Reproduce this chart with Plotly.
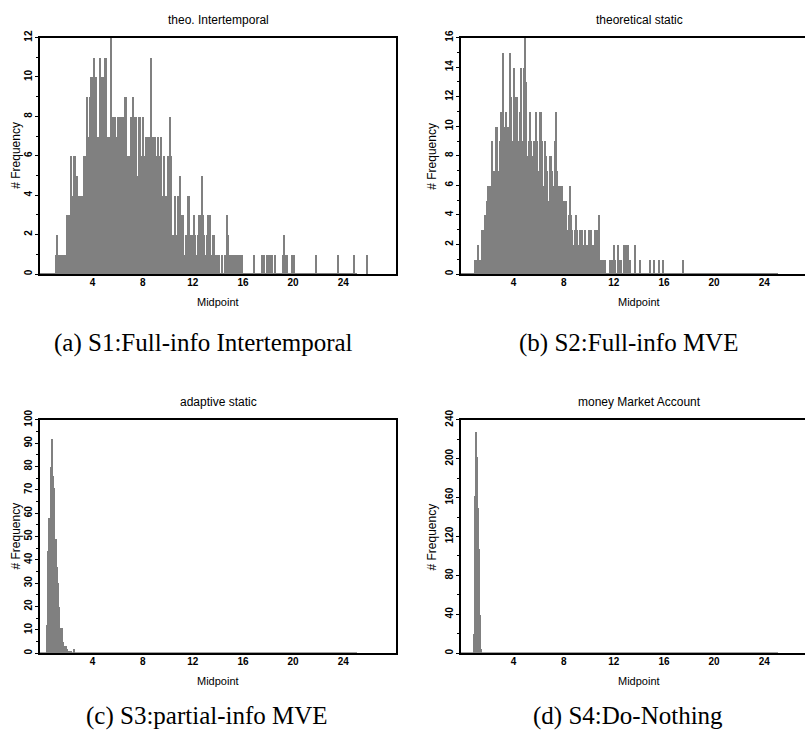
import plotly.graph_objects as go

# ---------------- data (histogram counts per bin) ----------------
# (a) theo. Intertemporal : bins of width 0.1, first bin centred at 1.0
a_start = 1.0
a_width = 0.1
a_counts = [
    0, 1, 2, 1, 1, 1, 1, 1, 1, 1,        # 1.x
    3, 3, 3, 6, 4, 6, 6, 4, 5, 4,        # 2.x
    4, 4, 4, 6, 6, 6, 9, 7, 9, 10,       # 3.x
    10, 11, 7, 10, 7, 7, 11, 10, 10, 5,  # 4.x
    11, 11, 7, 7, 4, 12, 8, 8, 8, 7,     # 5.x
    8, 8, 6, 8, 8, 6, 9, 9, 6, 6,        # 6.x
    6, 8, 9, 6, 8, 8, 5, 8, 8, 6,        # 7.x
    8, 6, 3, 7, 7, 6, 7, 11, 7, 7,       # 8.x
    7, 6, 7, 3, 6, 7, 4, 6, 4, 4,        # 9.x
    6, 4, 8, 6, 2, 2, 4, 2, 4, 3,        # 10.x
    5, 3, 3, 1, 1, 2, 4, 4, 2, 2,        # 11.x
    2, 3, 2, 1, 2, 3, 3, 5, 3, 2,        # 12.x
    1, 2, 3, 3, 3, 1, 2, 2, 1, 1,        # 13.x
    1, 1, 0, 1, 0, 0, 1, 3, 2, 1,        # 14.x
    1, 1, 1, 0, 1, 1, 0, 1, 1, 1,        # 15.x
    0, 0, 0, 0, 0, 0, 0, 0, 0, 1,        # 16.x
    0, 0, 0, 0, 0, 1, 1, 1, 0, 1,        # 17.x
    1, 0, 1, 1, 0, 0, 1, 0, 0, 0,        # 18.x
    0, 0, 1, 2, 1, 1, 0, 0, 0, 1,        # 19.x
    1, 1, 0, 0, 0, 0, 0, 0, 0, 0,        # 20.x
    0, 0, 0, 0, 0, 0, 0, 0, 1, 0,        # 21.x
    0, 0, 0, 0, 0, 0, 0, 0, 0, 0,        # 22.x
    0, 0, 0, 0, 0, 0, 1, 0, 0, 0,        # 23.x
    0, 0, 0, 0, 0, 0, 0, 0, 0, 1,        # 24.x
    0, 0, 0, 0, 0, 0, 0, 0, 0, 1,        # 25.x
]

# (b) theoretical static : bins of width 0.1, first bin centred at 0.9
b_start = 0.9
b_width = 0.1
b_counts = [
    1,                                    # 0.9
    1, 1, 2, 1, 1, 3, 3, 4, 3, 5,         # 1.x
    6, 6, 3, 9, 7, 7, 10, 10, 7, 9,       # 2.x
    11, 11, 15, 10, 11, 9, 10, 15, 12, 9, # 3.x
    14, 12, 10, 12, 9, 11, 14, 9, 14, 16, # 4.x
    13, 8, 9, 11, 9, 8, 9, 8, 11, 9,      # 5.x
    7, 11, 11, 9, 6, 9, 8, 7, 5, 8,       # 6.x
    8, 7, 6, 9, 11, 7, 6, 6, 4, 6,        # 7.x
    5, 4, 5, 3, 4, 6, 4, 3, 2, 3,         # 8.x
    4, 3, 2, 3, 2, 3, 2, 3, 2, 2,         # 9.x
    3, 2, 3, 2, 2, 3, 2, 3, 4, 1,         # 10.x
    0, 1, 1, 1, 0, 0, 0, 1, 1, 1,         # 11.x
    2, 1, 0, 2, 1, 0, 1, 0, 2, 1,         # 12.x
    2, 2, 0, 1, 0, 0, 0, 2, 0, 0,         # 13.x
    0, 1, 0, 0, 0, 0, 0, 0, 0, 1,         # 14.x
    0, 0, 1, 0, 0, 0, 1, 0, 0, 1,         # 15.x
    0, 0, 0, 0, 0, 0, 0, 0, 0, 0,         # 16.x
    0, 0, 0, 0, 0, 1,                     # 17.0-17.5
]

# (c) adaptive static
c_start = 0.35
c_width = 0.1
c_counts = [12, 44, 58, 80, 92, 76, 71, 49, 37, 30, 20, 11, 11, 5, 3, 3, 2, 1, 1, 1, 0, 0, 2]

# (d) money Market Account
d_start = 0.84
d_width = 0.08
d_counts = [20, 162, 228, 202, 150, 107, 40, 5]

hist_span = [-0.2, 25.1]          # extent of the (zero) histogram baseline
x_ticks = [4, 8, 12, 16, 20, 24]

titles = ["theo. Intertemporal", "theoretical static", "adaptive static", "money Market Account"]
captions = ["(a) S1:Full-info Intertemporal", "(b) S2:Full-info MVE",
            "(c) S3:partial-info MVE", "(d) S4:Do-Nothing"]
y_max = [12, 16, 100, 240]
y_dtick = [2, 2, 10, 40]
y_minor = [1, 1, 5, 20]

# ---------------- layout geometry (pixels) ----------------
W, H = 805, 737
BAR = "#808080"
SANS = "Liberation Sans"
SERIF = "Liberation Serif"

# plot boxes: (left, right, top, bottom); right panels are cut at image edge
boxes = [(40, 396, 28, 268), (461, 817, 28, 268), (40, 396, 416, 653), (461, 817, 416, 653)]
caption_pos = [(203, 338), (628, 338), (207, 717), (628, 717)]
ylabel_gap = [24, 29, 24, 29]
x_lo = -0.2
px_per_unit = 12.53


def fx(p):
    return p / W


def fy(p):
    return 1 - p / H


series = [(a_start, a_width, a_counts), (b_start, b_width, b_counts),
          (c_start, c_width, c_counts), (d_start, d_width, d_counts)]

fig = go.Figure()
layout = dict(
    width=W, height=H, margin=dict(l=0, r=0, t=0, b=0),
    paper_bgcolor="white", plot_bgcolor="white", showlegend=False,
    bargap=0, barmode="overlay", annotations=[],
)

for i, ((start, width, counts), box) in enumerate(zip(series, boxes)):
    n = i + 1
    xa = "x" if n == 1 else f"x{n}"
    ya = "y" if n == 1 else f"y{n}"
    xs = [start + k * width for k in range(len(counts))]
    fig.add_trace(go.Bar(x=xs, y=counts, width=width, xaxis=xa, yaxis=ya,
                         marker=dict(color=BAR, line=dict(width=0))))
    fig.add_trace(go.Scatter(x=hist_span, y=[0, 0], mode="lines", xaxis=xa, yaxis=ya,
                             line=dict(color=BAR, width=2), cliponaxis=False,
                             hoverinfo="skip"))
    l, r, t, b = box
    right_px = min(r, W)
    x_hi = x_lo + (right_px - l) / px_per_unit
    cut = r > W
    layout["xaxis" if n == 1 else f"xaxis{n}"] = dict(
        domain=[fx(l), fx(right_px)], anchor=ya, range=[x_lo, x_hi],
        showline=True, linecolor="black", linewidth=2, mirror=True,
        showgrid=False, zeroline=False, ticks="",
        tickmode="array", tickvals=x_ticks, ticklabelstandoff=-2,
        tickfont=dict(family=SANS, size=10, color="black", weight="bold"),
    )
    layout["yaxis" if n == 1 else f"yaxis{n}"] = dict(
        domain=[fy(b), fy(t)], anchor=xa, range=[0, y_max[i]],
        showline=True, linecolor="black", linewidth=2, mirror=(not cut),
        showgrid=False, zeroline=False,
        ticks="outside", ticklen=3, tickwidth=1, tickcolor="black",
        dtick=y_dtick[i], tick0=0, tickangle=-90, ticklabelstandoff=-1,
        minor=dict(dtick=y_minor[i], ticks="outside", ticklen=2, tickcolor="black"),
        tickfont=dict(family=SANS, size=10, color="black", weight="bold"),
    )
    cx = (l + r) / 2
    layout["annotations"] += [
        dict(text=titles[i], x=fx(cx), y=fy(t - 18), xref="paper", yref="paper",
             showarrow=False, xanchor="center", yanchor="middle",
             font=dict(family=SANS, size=12, color="black")),
        dict(text="Midpoint", x=fx(cx), y=fy(b + 28), xref="paper", yref="paper",
             showarrow=False, xanchor="center", yanchor="middle",
             font=dict(family=SANS, size=11, color="black")),
        dict(text="# Frequency", x=fx(l - ylabel_gap[i]), y=fy((t + b) / 2),
             xref="paper", yref="paper",
             showarrow=False, xanchor="center", yanchor="middle", textangle=-90,
             font=dict(family=SANS, size=12, color="black")),
        dict(text=captions[i], x=fx(caption_pos[i][0]), y=fy(caption_pos[i][1]),
             xref="paper", yref="paper", showarrow=False,
             xanchor="center", yanchor="middle",
             font=dict(family=SERIF, size=25, color="black")),
    ]

fig.update_layout(**layout)
fig.write_html("out.html")
